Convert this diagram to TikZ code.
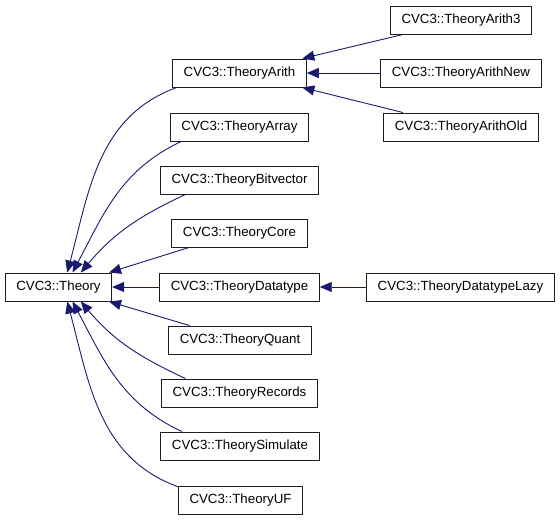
\documentclass[tikz,border=0pt]{standalone}
\usepackage{fontspec}
\setmainfont{Liberation Sans}
\usepackage{tikz}
\usetikzlibrary{arrows.meta}
\definecolor{edgeblue}{RGB}{25,25,112}
\definecolor{boxline}{RGB}{30,30,30}

\begin{document}
\begin{tikzpicture}[x=1pt, y=-1pt,
  cls/.style={draw=boxline, line width=1pt, minimum height=28pt, inner xsep=11pt,
    font=\fontsize{13.3}{15}\selectfont},
  inh/.style={edgeblue, line width=0.9pt, -{Triangle[length=12pt, width=10pt]}}]
  \useasboundingbox (0,0) rectangle (560,520);
  % base class
  \node[cls] (theory) at (58.5,287) {CVC3::Theory};
  % direct subclasses
  \node[cls] (arith)     at (239.5,73)  {CVC3::TheoryArith};
  \node[cls] (array)     at (239.5,127) {CVC3::TheoryArray};
  \node[cls] (bitvec)    at (239.5,180) {CVC3::TheoryBitvector};
  \node[cls] (core)      at (239.5,233) {CVC3::TheoryCore};
  \node[cls] (datatype)  at (239.5,287) {CVC3::TheoryDatatype};
  \node[cls] (quant)     at (240,340)   {CVC3::TheoryQuant};
  \node[cls] (records)   at (239.5,393) {CVC3::TheoryRecords};
  \node[cls] (simulate)  at (240,446)   {CVC3::TheorySimulate};
  \node[cls] (uf)        at (240.5,500) {CVC3::TheoryUF};
  % second level
  \node[cls] (arith3)    at (461,20)    {CVC3::TheoryArith3};
  \node[cls] (arithnew)  at (461,73)    {CVC3::TheoryArithNew};
  \node[cls] (arithold)  at (461,127)   {CVC3::TheoryArithOld};
  \node[cls] (lazy)      at (460.5,287) {CVC3::TheoryDatatypeLazy};

  \draw[inh] (arith.193) to[out=200, in=75] (theory.59);
  \draw[inh] (array.194) to[out=205, in=62] (theory.46);
  \draw[inh] (bitvec.195) to[out=205, in=50] (theory.33);
  \draw[inh] (core.196) -- (theory.16);
  \draw[inh] (datatype) -- (theory);
  \draw[inh] (quant.164) -- (theory.-16);
  \draw[inh] (records.165) to[out=155, in=-50] (theory.-33);
  \draw[inh] (simulate.166) to[out=155, in=-62] (theory.-46);
  \draw[inh] (uf.168) to[out=160, in=-75] (theory.-59);

  \draw[inh] (arith3.194) -- (arith.13);
  \draw[inh] (arithnew) -- (arith);
  \draw[inh] (arithold.166) -- (arith.-13);
  \draw[inh] (lazy) -- (datatype);
\end{tikzpicture}
\end{document}
